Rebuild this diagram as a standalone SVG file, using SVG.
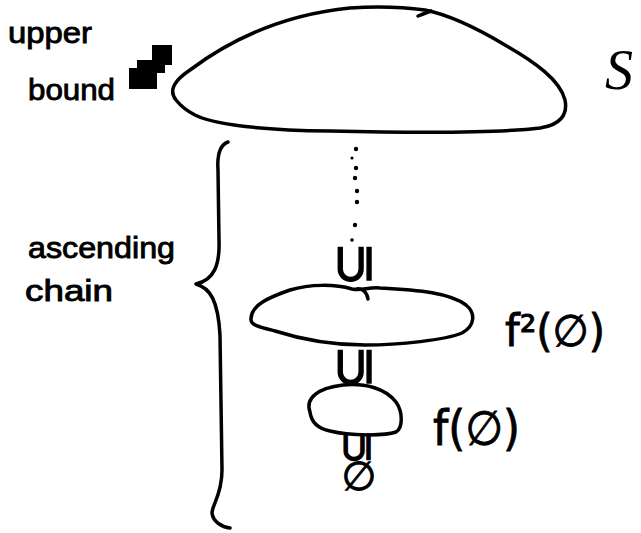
<svg xmlns="http://www.w3.org/2000/svg" width="641" height="533" viewBox="0 0 641 533">
  <style>
    .ink { fill: none; stroke: #000; stroke-width: 3.5; stroke-linecap: round; stroke-linejoin: round; }
    .hand { font-family: "Liberation Sans", "DejaVu Sans", sans-serif; font-size: 30px; fill: #000; stroke: #000; stroke-width: 0.9; }
    .math { font-family: "DejaVu Sans", "Liberation Sans", sans-serif; fill: #000; stroke: #000; stroke-width: 0.9; }
    .sub { font-family: "DejaVu Sans", sans-serif; fill: #000; stroke: #000; stroke-width: 1.3; }
    .dot { fill: #000; }
  </style>
  <rect width="641" height="533" fill="#fff"/>

  <!-- the whole set S, with its upper bound -->
  <g id="set-S">
    <path class="ink" d="M 176 100 C 168 90, 175 80, 190 70 C 230 40, 280 15, 350 8 C 380 6, 410 8, 425 10 C 450 15, 480 30, 505 45 C 535 62, 560 80, 565 100 C 568 115, 560 125, 540 128 C 500 133, 420 133, 330 131 C 260 130, 215 125, 195 115 C 185 110, 180 105, 176 100 Z"/>
    <path class="ink" d="M 418 16 C 423 14, 428 12, 431 11"/>
    <text x="605" y="89" font-family="Liberation Serif, serif" font-style="italic" font-size="56" fill="#000">S</text>
  </g>

  <g id="upper-bound">
    <rect x="152" y="45" width="20" height="20" fill="#000"/>
    <rect x="137" y="60" width="28" height="13" fill="#000"/>
    <rect x="129" y="68" width="28" height="21" fill="#000"/>
    <text class="hand" x="8" y="43" textLength="84" lengthAdjust="spacingAndGlyphs">upper</text>
    <text class="hand" x="28" y="100" textLength="87" lengthAdjust="spacingAndGlyphs">bound</text>
  </g>

  <!-- brace spanning the chain -->
  <g id="chain-brace">
    <path class="ink" d="M 228 142 C 220 145, 217 155, 218 170 L 219 240 C 220 265, 214 280, 196 284 C 210 288, 218 300, 220 335 L 222 470 C 222 495, 212 505, 212 513 C 213 522, 222 527, 230 528"/>
    <text class="hand" x="28" y="258" textLength="147" lengthAdjust="spacingAndGlyphs">ascending</text>
    <text class="hand" x="25" y="301" textLength="88" lengthAdjust="spacingAndGlyphs">chain</text>
  </g>

  <!-- f²(∅) -->
  <g id="f2-empty">
    <path class="ink" d="M 251 320 C 250 305, 270 297, 290 290 C 310 284, 335 284, 352 289 C 362 291, 368 287, 380 288 C 420 290, 450 293, 466 305 C 476 313, 475 326, 462 333 C 445 340, 400 345, 365 345 C 330 345, 300 339, 275 331 C 260 327, 251 325, 251 320 Z"/>
    <path class="ink" d="M 357 289 C 362 288, 367 292, 368 299"/>
    <text class="math" x="505" y="346" font-size="44" textLength="100" lengthAdjust="spacingAndGlyphs">f²(∅)</text>
  </g>

  <!-- f(∅) -->
  <g id="f-empty">
    <path class="ink" d="M 310 412 C 305 398, 318 388, 343 385 C 365 383, 385 388, 396 402 C 403 412, 403 428, 396 432 C 385 436, 350 436, 330 431 C 315 428, 311 420, 310 412 Z"/>
    <text class="math" x="433" y="445" font-size="48" textLength="87" lengthAdjust="spacingAndGlyphs">f(∅)</text>
  </g>

  <!-- ∅ at the bottom of the chain -->
  <g id="empty-set">
    <text class="math" x="359" y="490" font-size="40" text-anchor="middle">∅</text>
  </g>

  <!-- inclusions between consecutive stages -->
  <g id="connectors">
    <circle class="dot" cx="356" cy="149" r="2.2"/>
    <circle class="dot" cx="352" cy="158" r="1.6"/>
    <circle class="dot" cx="356" cy="168" r="2.2"/>
    <circle class="dot" cx="355" cy="178" r="2.2"/>
    <circle class="dot" cx="357" cy="191" r="2.2"/>
    <circle class="dot" cx="357" cy="202" r="2.2"/>
    <circle class="dot" cx="355" cy="225" r="2.2"/>
    <circle class="dot" cx="352" cy="240" r="1.8"/>
    <text class="sub" font-size="46" text-anchor="middle" dominant-baseline="central" transform="translate(352 264) rotate(-90) scale(1.15)">⊆</text>
    <text class="sub" font-size="46" text-anchor="middle" dominant-baseline="central" transform="translate(352 367) rotate(-90) scale(1.15)">⊆</text>
    <text class="sub" font-size="38" text-anchor="middle" dominant-baseline="central" transform="translate(355 447) rotate(-90) scale(1.1)">⊆</text>
  </g>
</svg>
